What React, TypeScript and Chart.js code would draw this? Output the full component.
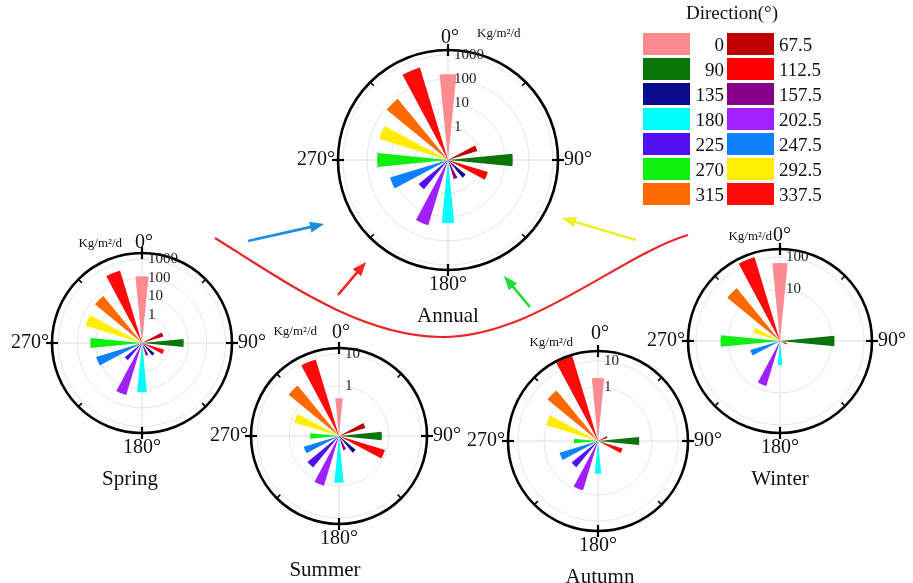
import React, { useEffect, useRef } from "react";
import { Chart, registerables } from "chart.js";

Chart.register(...registerables);

// ---------- data ----------
const directions = [0, 22.5, 45, 67.5, 90, 112.5, 135, 157.5, 180, 202.5, 225, 247.5, 270, 292.5, 315, 337.5];
const directionColors = [
  "#ff8a90", "#cccccc", "#cccccc", "#c00000", "#0b750b", "#ff0000", "#0a0a8c", "#880088",
  "#00ffff", "#a020ff", "#5010f0", "#1080ff", "#10f010", "#ffee00", "#ff6a00", "#ff0a0a",
];
// Kg/m2/d per direction (order as in `directions`); null = no flux
const annualFlux = [160, null, null, 0.8, 21, 2.3, 0.38, 0.29, 18, 29, 1.6, 14, 38, 42, 85, 450];
const springFlux = [125, null, null, 0.5, 5.5, 0.55, 0.23, 0.16, 14, 27, 0.5, 12, 19, 48, 60, 380];
const summerFlux = [0.42, null, null, 0.2, 0.6, 0.87, 0.13, 0.08, 0.8, 1.15, 0.52, 0.39, 0.22, 0.8, 3, 8.7];
const autumnFlux = [2.2, null, null, 0.02, 0.32, 0.08, null, null, 0.15, 0.8, 0.17, 0.29, 0.07, 1.0, 2.7, 22];
const winterFlux = [65, null, null, null, 12, 0.4, null, null, 1.35, 7, null, 2.2, 17, 1.8, 32, 130];

const annualTicks = [1, 10, 100, 1000];
const springTicks = [1, 10, 100, 1000];
const summerTicks = [1, 10];
const autumnTicks = [1, 10];
const winterTicks = [10, 100];

const seasonNames = ["Annual", "Spring", "Summer", "Autumn", "Winter"];
const unitLabel = "Kg/m\u00b2/d";
const angleLabels = ["0\u00b0", "90\u00b0", "180\u00b0", "270\u00b0"];
const legendTitle = "Direction(\u00b0)";

// ---------- layout ----------
const SERIF = '"Liberation Serif", "Times New Roman", serif';

type Panel = {
  name: string;
  values: (number | null)[];
  ticks: number[];
  logMin: number;
  logFrame: number;
  cx: number;
  cy: number;
  R: number;
  unitAlign: CanvasTextAlign;
  unitDx: number;
  unitDy: number;
  zeroDy: number;
  nameDx: number;
};

const panels: Panel[] = [
  { name: seasonNames[0], values: annualFlux, ticks: annualTicks, logMin: -1.375, logFrame: 3.21, cx: 448, cy: 160, R: 110, unitAlign: "left", unitDx: 29, unitDy: -126, zeroDy: -12, nameDx: 0 },
  { name: seasonNames[1], values: springFlux, ticks: springTicks, logMin: -1.51, logFrame: 3.35, cx: 142, cy: 343, R: 90, unitAlign: "right", unitDx: -20, unitDy: -99, zeroDy: -10, nameDx: -12 },
  { name: seasonNames[2], values: summerFlux, ticks: summerTicks, logMin: -1.56, logFrame: 1.19, cx: 339, cy: 436, R: 88, unitAlign: "right", unitDx: -22, unitDy: -104, zeroDy: -15, nameDx: -14 },
  { name: seasonNames[3], values: autumnFlux, ticks: autumnTicks, logMin: -2.08, logFrame: 1.38, cx: 598, cy: 441, R: 90, unitAlign: "right", unitDx: -25, unitDy: -98, zeroDy: -17, nameDx: 2 },
  { name: seasonNames[4], values: winterFlux, ticks: winterTicks, logMin: -0.625, logFrame: 2.25, cx: 780, cy: 341, R: 92, unitAlign: "right", unitDx: -8, unitDy: -104, zeroDy: -13, nameDx: 0 },
];

function makeFramePlugin(p: Panel) {
  return {
    id: "roseFrame",
    beforeDatasetsDraw(chart: any) {
      const s = chart.scales.r;
      const ctx = chart.ctx as CanvasRenderingContext2D;
      const R = s.getDistanceFromCenterForValue(p.logFrame);
      const x0 = s.xCenter, y0 = s.yCenter;
      ctx.save();
      ctx.strokeStyle = "#dedede";
      ctx.lineWidth = 1;
      ctx.beginPath();
      ctx.moveTo(x0 - R, y0); ctx.lineTo(x0 + R, y0);
      ctx.moveTo(x0, y0 - R); ctx.lineTo(x0, y0 + R);
      ctx.stroke();
      ctx.restore();
    },
    afterDatasetsDraw(chart: any) {
      const s = chart.scales.r;
      const ctx = chart.ctx as CanvasRenderingContext2D;
      const R = s.getDistanceFromCenterForValue(p.logFrame);
      const x0 = s.xCenter, y0 = s.yCenter;
      ctx.save();
      // frame
      ctx.strokeStyle = "#000";
      ctx.lineWidth = 2.6;
      ctx.beginPath();
      ctx.arc(x0, y0, R, 0, Math.PI * 2);
      ctx.stroke();
      // tick marks
      for (let k = 0; k < 8; k++) {
        const a = (k * 45 * Math.PI) / 180;
        const sx = Math.sin(a), sy = -Math.cos(a);
        const major = k % 2 === 0;
        const r1 = major ? R - 6 : R - 5;
        const r2 = major ? R + 6 : R;
        ctx.lineWidth = major ? 2.2 : 1.6;
        ctx.beginPath();
        ctx.moveTo(x0 + sx * r1, y0 + sy * r1);
        ctx.lineTo(x0 + sx * r2, y0 + sy * r2);
        ctx.stroke();
      }
      // radial tick labels
      ctx.fillStyle = "#222";
      ctx.font = `15px ${SERIF}`;
      ctx.textAlign = "left";
      ctx.textBaseline = "middle";
      p.ticks.forEach((t) => {
        const r = s.getDistanceFromCenterForValue(Math.log10(t));
        ctx.fillText(String(t), x0 + 6, y0 - r);
      });
      // angle labels
      ctx.fillStyle = "#111";
      ctx.font = `20px ${SERIF}`;
      ctx.textAlign = "center";
      ctx.fillText(angleLabels[0], x0 + 2, y0 - R + p.zeroDy);
      ctx.fillText(angleLabels[2], x0, y0 + R + 15);
      ctx.textAlign = "left";
      ctx.fillText(angleLabels[1], x0 + R + 6, y0);
      ctx.textAlign = "right";
      ctx.fillText(angleLabels[3], x0 - R - 3, y0);
      // season name
      ctx.textAlign = "center";
      ctx.font = `21px ${SERIF}`;
      ctx.fillText(p.name, x0 + p.nameDx, y0 + R + 46);
      // unit
      ctx.font = `13px ${SERIF}`;
      ctx.textAlign = p.unitAlign;
      ctx.fillText(unitLabel, x0 + p.unitDx, y0 + p.unitDy);
      ctx.restore();
    },
  };
}

function RosePanel({ p }: { p: Panel }) {
  const ref = useRef<HTMLCanvasElement>(null);
  const D = p.R + 62;
  useEffect(() => {
    if (!ref.current) return;
    const min = p.logMin;
    const max = min + ((p.logFrame - min) * D) / p.R;
    const data: number[] = [];
    const colors: string[] = [];
    const labels: string[] = [];
    directions.forEach((d, i) => {
      const v = p.values[i];
      data.push(v == null ? min : Math.max(Math.log10(v), min));
      colors.push(directionColors[i]);
      labels.push(String(d));
      data.push(min);
      colors.push("rgba(0,0,0,0)");
      labels.push("");
    });
    const tickLogs = p.ticks.map((t) => Math.log10(t));
    const chart = new Chart(ref.current, {
      type: "polarArea",
      data: { labels, datasets: [{ data, backgroundColor: colors, borderWidth: 0 }] },
      options: {
        responsive: false,
        maintainAspectRatio: false,
        animation: false,
        plugins: { legend: { display: false }, tooltip: { enabled: false }, title: { display: false } },
        scales: {
          r: {
            type: "radialLinear",
            min,
            max,
            bounds: "data",
            beginAtZero: false,
            startAngle: -360 / 64,
            ticks: { display: false },
            grid: { display: true, circular: true, color: "#e6e6e6", lineWidth: 1 },
            angleLines: { display: false },
            pointLabels: { display: false },
            afterBuildTicks: (scale: any) => {
              scale.ticks = tickLogs.map((v) => ({ value: v }));
            },
          },
        },
      } as any,
      plugins: [makeFramePlugin(p)],
    });
    return () => chart.destroy();
  }, []);
  return (
    <canvas
      ref={ref}
      width={2 * D}
      height={2 * D}
      style={{ position: "absolute", left: p.cx - D, top: p.cy - D, width: 2 * D, height: 2 * D }}
    />
  );
}

function Arrow({ x1, y1, x2, y2, color }: { x1: number; y1: number; x2: number; y2: number; color: string }) {
  const dx = x2 - x1, dy = y2 - y1;
  const L = Math.hypot(dx, dy);
  const ux = dx / L, uy = dy / L;
  const hl = 14, hw = 5.5;
  const bx = x2 - ux * hl, by = y2 - uy * hl;
  const pts = `${x2},${y2} ${bx - uy * hw},${by + ux * hw} ${bx + uy * hw},${by - ux * hw}`;
  return (
    <g>
      <line x1={x1} y1={y1} x2={bx + ux * 2} y2={by + uy * 2} stroke={color} strokeWidth={2.6} />
      <polygon points={pts} fill={color} />
    </g>
  );
}

function Overlay() {
  const legendDirs = directions
    .map((d, i) => ({ d, c: directionColors[i], has: annualFlux[i] != null }))
    .filter((e) => e.has);
  const rows: { d: number; c: string }[][] = [];
  for (let i = 0; i < legendDirs.length; i += 2) rows.push(legendDirs.slice(i, i + 2));
  return (
    <svg width={913} height={583} style={{ position: "absolute", left: 0, top: 0, pointerEvents: "none" }}>
      <path d="M215 238 C 290 285, 360 335, 440 337 C 530 339, 620 255, 688 235" fill="none" stroke="#e8262a" strokeWidth={2.2} />
      <Arrow x1={248} y1={241} x2={324} y2={224} color="#1a8fe0" />
      <Arrow x1={338} y1={295} x2={366} y2={262} color="#ff2222" />
      <Arrow x1={530} y1={307} x2={504} y2={276} color="#22dd33" />
      <Arrow x1={636} y1={240} x2={562} y2={218} color="#eeee33" />
      <text x={732} y={19} textAnchor="middle" fontFamily={SERIF} fontSize={19} fill="#111">
        {legendTitle}
      </text>
      {rows.map((row, ri) => {
        const yc = 44 + ri * 25;
        return (
          <g key={ri}>
            {row[0] && <rect x={643} y={yc - 11} width={47} height={22} fill={row[0].c} />}
            {row[0] && (
              <text x={724} y={yc + 6.5} textAnchor="end" fontFamily={SERIF} fontSize={19} fill="#111">
                {String(row[0].d)}
              </text>
            )}
            {row[1] && <rect x={727} y={yc - 11} width={47} height={22} fill={row[1].c} />}
            {row[1] && (
              <text x={779} y={yc + 6.5} textAnchor="start" fontFamily={SERIF} fontSize={19} fill="#111">
                {String(row[1].d)}
              </text>
            )}
          </g>
        );
      })}
    </svg>
  );
}

export default function App() {
  return (
    <div
      style={{
        position: "absolute",
        left: 0,
        top: 0,
        width: 913,
        height: 583,
        overflow: "hidden",
        background: "#fff",
      }}
    >
      {panels.map((p) => (
        <RosePanel key={p.name} p={p} />
      ))}
      <Overlay />
    </div>
  );
}
